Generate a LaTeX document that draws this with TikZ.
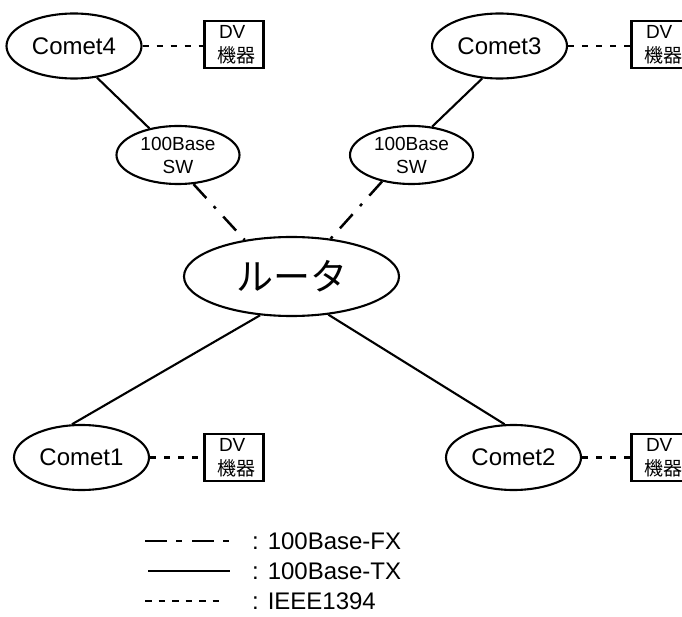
\documentclass[tikz,border=0pt]{standalone}
\usepackage{fontspec}
\setmainfont{Liberation Sans}
\newfontfamily\jpfont{Noto Sans CJK JP}
\usetikzlibrary{shapes.geometric}

\begin{document}
\begin{tikzpicture}[x=1pt,y=-1pt,
  hub/.style={ellipse,draw,line width=2.1pt,inner sep=0pt},
  comet/.style={hub,minimum width=135pt,minimum height=65pt,
    font=\fontsize{24}{28}\selectfont},
  swnode/.style={hub,minimum width=123pt,minimum height=58pt,align=center,
    font=\fontsize{19}{23}\selectfont},
  routernode/.style={hub,minimum width=215pt,minimum height=79pt,
    font=\fontsize{37}{42}\selectfont\jpfont},
  dvbox/.style={draw,line width=2.1pt,minimum width=59pt,minimum height=47pt,
    inner sep=0pt,align=left,font=\fontsize{19}{24}\selectfont},
  tx/.style={line width=2.1pt},
  fx/.style={line width=2.5pt,dash pattern=on 19pt off 11pt on 3pt off 11pt},
  fxkey/.style={line width=2.5pt,dash pattern=on 22pt off 9pt on 6pt off 10pt},
  ieee/.style={line width=2.5pt,dash pattern=on 6pt off 8pt},
  ieeekey/.style={line width=2.5pt,dash pattern=on 6.5pt off 7pt},
  keytext/.style={anchor=west,inner sep=0pt,font=\fontsize{24}{28}\selectfont}]

\useasboundingbox (0,0) rectangle (682,617);

% network nodes
\node[comet] (c4) at (74,46) {Comet4};
\node[comet] (c3) at (499.5,46) {Comet3};
\node[comet] (c1) at (81.5,457.5) {Comet1};
\node[comet] (c2) at (513.5,457.5) {Comet2};
\node[swnode] (sw1) at (178,155) {100Base\\SW};
\node[swnode] (sw2) at (411.5,155) {100Base\\SW};
\node[routernode] (rt) at (291.5,276.5) {ルータ};

% DV equipment boxes
\node[dvbox] (dv4) at (234,44.5) {\hspace*{6pt}DV\\\hspace*{4pt}{\jpfont 機器}};
\node[dvbox] (dv3) at (661,44.5) {\hspace*{6pt}DV\\\hspace*{4pt}{\jpfont 機器}};
\node[dvbox] (dv1) at (234,457.5) {\hspace*{6pt}DV\\\hspace*{4pt}{\jpfont 機器}};
\node[dvbox] (dv2) at (661,457.5) {\hspace*{6pt}DV\\\hspace*{4pt}{\jpfont 機器}};

% 100Base-TX links
\draw[tx] (c4.306) -- (sw1.137);
\draw[tx] (c3.242) -- (sw2.54);
\draw[tx] (rt.231) -- (c1.106);
\draw[tx] (rt.314) -- (c2.105);

% 100Base-FX links
\draw[fx] (sw1.298) -- (rt.142);
\draw[fx] (sw2.222) -- (rt.44);

% IEEE1394 links
\draw[ieee] (c4.east) -- (c4.east -| dv4.west);
\draw[ieee] (c3.east) -- (c3.east -| dv3.west);
\draw[ieee] (c1.east) -- (c1.east -| dv1.west);
\draw[ieee] (c2.east) -- (c2.east -| dv2.west);

% legend
\coordinate (fxa) at (145,541);
\coordinate (fxb) at (230,541);
\coordinate (txa) at (148,571);
\coordinate (txb) at (230,571);
\coordinate (iea) at (145,601);
\coordinate (ieb) at (226,601);
\draw[fxkey] (fxa) -- (fxb);
\draw[tx] (txa) -- (txb);
\draw[ieeekey] (iea) -- (ieb);
\node[keytext] (fxt) at (252,541) {: 100Base-FX};
\node[keytext] (txt) at (252,571) {: 100Base-TX};
\node[keytext] (iet) at (252,601) {: IEEE1394};

\end{tikzpicture}
\end{document}
